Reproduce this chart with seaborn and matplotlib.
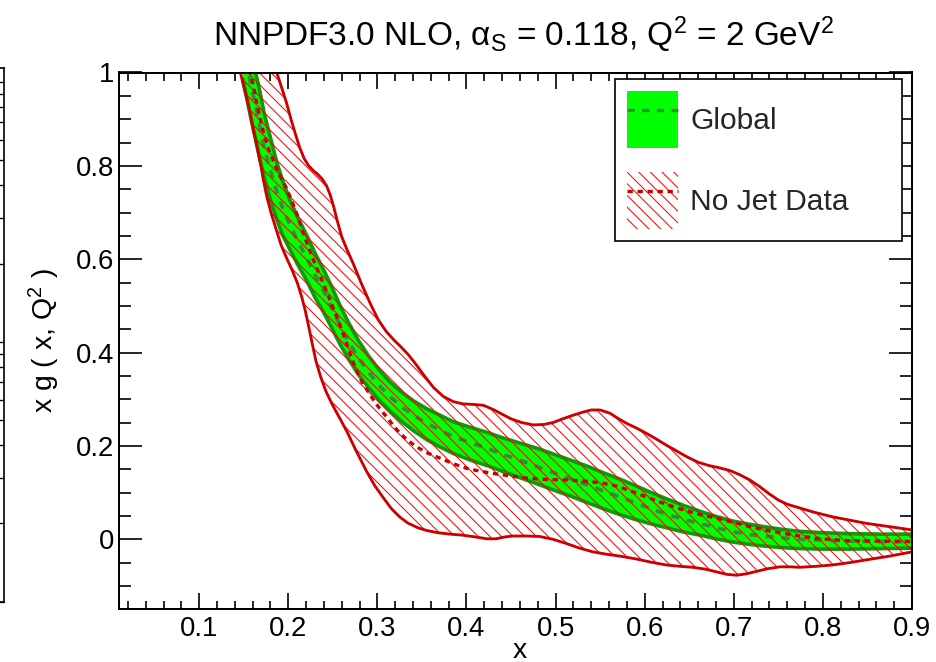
import numpy as np
import matplotlib
matplotlib.use("Agg")
import matplotlib.pyplot as plt
import seaborn as sns
from matplotlib.patches import Patch
from matplotlib.lines import Line2D
from matplotlib.ticker import MultipleLocator, FixedLocator, FixedFormatter

# ---------------- data ----------------
# No Jet Data: upper bound, lower bound, central value
nojet_up_x = [0.178, 0.187, 0.193, 0.198, 0.203, 0.208, 0.213, 0.218, 0.223, 0.228,
              0.233, 0.238, 0.243, 0.247, 0.251, 0.255, 0.260, 0.266, 0.273, 0.282,
              0.292, 0.301, 0.310, 0.318, 0.326, 0.334, 0.342, 0.352, 0.363, 0.374,
              0.385, 0.396, 0.407, 0.419, 0.430, 0.440, 0.450, 0.462, 0.475, 0.487,
              0.497, 0.508, 0.520, 0.530, 0.540, 0.550, 0.561, 0.570, 0.580, 0.590,
              0.600, 0.612, 0.624, 0.636, 0.648, 0.660, 0.672, 0.684, 0.696, 0.707,
              0.718, 0.729, 0.740, 0.750, 0.760, 0.774, 0.790, 0.811, 0.830, 0.849,
              0.875, 0.900]
nojet_up_y = [1.050, 1.000, 0.965, 0.935, 0.900, 0.868, 0.838, 0.815, 0.800, 0.790,
              0.782, 0.772, 0.757, 0.738, 0.712, 0.682, 0.648, 0.620, 0.590, 0.548,
              0.505, 0.470, 0.445, 0.428, 0.413, 0.397, 0.378, 0.352, 0.325, 0.306,
              0.295, 0.290, 0.289, 0.287, 0.278, 0.268, 0.258, 0.250, 0.245, 0.246,
              0.250, 0.258, 0.266, 0.272, 0.277, 0.277, 0.270, 0.259, 0.248, 0.239,
              0.229, 0.216, 0.202, 0.189, 0.176, 0.165, 0.158, 0.153, 0.147, 0.138,
              0.127, 0.113, 0.097, 0.084, 0.075, 0.067, 0.058, 0.048, 0.041, 0.034,
              0.027, 0.020]

nojet_lo_x = [0.139, 0.146, 0.150, 0.154, 0.158, 0.161, 0.165, 0.169, 0.172, 0.176,
              0.181, 0.187, 0.192, 0.198, 0.204, 0.210, 0.215, 0.219, 0.223, 0.227,
              0.231, 0.236, 0.242, 0.249, 0.257, 0.266, 0.276, 0.288, 0.297, 0.307,
              0.316, 0.325, 0.334, 0.345, 0.355, 0.368, 0.382, 0.395, 0.410, 0.423,
              0.433, 0.443, 0.452, 0.467, 0.482, 0.497, 0.512, 0.527, 0.542, 0.557,
              0.572, 0.590, 0.607, 0.624, 0.640, 0.654, 0.668, 0.681, 0.692, 0.703,
              0.714, 0.725, 0.738, 0.752, 0.763, 0.774, 0.792, 0.811, 0.830, 0.849,
              0.875, 0.900]
nojet_lo_y = [1.060, 1.002, 0.970, 0.940, 0.905, 0.875, 0.840, 0.803, 0.770, 0.733,
              0.697, 0.660, 0.630, 0.603, 0.578, 0.550, 0.520, 0.490, 0.455, 0.418,
              0.382, 0.350, 0.318, 0.290, 0.262, 0.230, 0.190, 0.145, 0.115, 0.088,
              0.065, 0.048, 0.035, 0.025, 0.019, 0.014, 0.011, 0.009, 0.005, 0.001,
              0.001, 0.005, 0.007, 0.007, 0.006, 0.000, -0.009, -0.019, -0.027, -0.032,
              -0.036, -0.042, -0.049, -0.055, -0.058, -0.060, -0.064, -0.070, -0.075, -0.077,
              -0.074, -0.069, -0.063, -0.059, -0.059, -0.060, -0.058, -0.055, -0.050, -0.044,
              -0.036, -0.027]

nojet_c_x = [0.150, 0.159, 0.165, 0.172, 0.178, 0.185, 0.191, 0.198, 0.204, 0.210,
             0.216, 0.223, 0.231, 0.240, 0.249, 0.258, 0.265, 0.271, 0.277, 0.283,
             0.290, 0.296, 0.303, 0.311, 0.318, 0.325, 0.334, 0.344, 0.356, 0.370,
             0.385, 0.400, 0.415, 0.430, 0.448, 0.468, 0.490, 0.512, 0.531, 0.550,
             0.562, 0.572, 0.589, 0.606, 0.624, 0.643, 0.662, 0.681, 0.700, 0.718,
             0.737, 0.755, 0.774, 0.793, 0.812, 0.830, 0.865, 0.900]
nojet_c_y = [1.070, 0.988, 0.930, 0.873, 0.835, 0.802, 0.777, 0.752, 0.725, 0.695,
             0.660, 0.624, 0.585, 0.545, 0.502, 0.459, 0.422, 0.388, 0.360, 0.336,
             0.315, 0.297, 0.279, 0.261, 0.243, 0.228, 0.212, 0.198, 0.185, 0.174,
             0.162, 0.152, 0.146, 0.141, 0.136, 0.131, 0.128, 0.127, 0.125, 0.121,
             0.117, 0.112, 0.100, 0.088, 0.075, 0.063, 0.053, 0.045, 0.036, 0.027,
             0.019, 0.013, 0.007, 0.002, -0.001, -0.003, -0.004, -0.005]

# Global: x grid, central value, upper and lower edge of the band
glob_x = [0.149, 0.155, 0.159, 0.163, 0.168, 0.173, 0.180, 0.187, 0.194, 0.202,
          0.211, 0.221, 0.230, 0.240, 0.249, 0.258, 0.268, 0.279, 0.290, 0.302,
          0.314, 0.328, 0.341, 0.355, 0.370, 0.385, 0.404, 0.423, 0.441, 0.460,
          0.479, 0.497, 0.516, 0.535, 0.553, 0.572, 0.587, 0.605, 0.624, 0.643,
          0.662, 0.680, 0.699, 0.718, 0.737, 0.755, 0.774, 0.800, 0.830, 0.865,
          0.900]
glob_c = [1.060, 1.002, 0.965, 0.931, 0.884, 0.838, 0.790, 0.745, 0.708, 0.673,
          0.637, 0.602, 0.566, 0.531, 0.495, 0.459, 0.422, 0.388, 0.358, 0.330,
          0.306, 0.283, 0.265, 0.249, 0.234, 0.220, 0.207, 0.195, 0.182, 0.169,
          0.156, 0.143, 0.130, 0.117, 0.104, 0.091, 0.080, 0.067, 0.054, 0.043,
          0.034, 0.025, 0.016, 0.010, 0.006, 0.003, 0.000, -0.002, -0.004, -0.005,
          -0.005]
glob_up = [1.140, 1.080, 1.040, 1.003, 0.960, 0.912, 0.860, 0.808, 0.766, 0.726,
           0.688, 0.650, 0.613, 0.576, 0.540, 0.501, 0.463, 0.425, 0.393, 0.363,
           0.337, 0.314, 0.296, 0.280, 0.266, 0.252, 0.240, 0.229, 0.217, 0.206,
           0.195, 0.183, 0.170, 0.157, 0.143, 0.129, 0.117, 0.102, 0.087, 0.073,
           0.060, 0.049, 0.039, 0.032, 0.026, 0.021, 0.017, 0.014, 0.012, 0.011,
           0.011]
glob_lo = [0.985, 0.930, 0.893, 0.860, 0.815, 0.775, 0.727, 0.685, 0.650, 0.620,
           0.587, 0.553, 0.518, 0.485, 0.452, 0.418, 0.385, 0.352, 0.325, 0.298,
           0.275, 0.251, 0.232, 0.214, 0.198, 0.184, 0.170, 0.158, 0.145, 0.132,
           0.119, 0.106, 0.093, 0.079, 0.066, 0.053, 0.044, 0.034, 0.025, 0.016,
           0.009, 0.001, -0.006, -0.011, -0.015, -0.018, -0.020, -0.021, -0.021, -0.020,
           -0.019]

x_ticks = [0.1, 0.2, 0.3, 0.4, 0.5, 0.6, 0.7, 0.8, 0.9]
x_ticklabels = ["0.1", "0.2", "0.3", "0.4", "0.5", "0.6", "0.7", "0.8", "0.9"]
y_ticks = [0.0, 0.2, 0.4, 0.6, 0.8, 1.0]
y_ticklabels = ["0", "0.2", "0.4", "0.6", "0.8", "1"]

legend_labels = ["Global", "No Jet Data"]
title = r"NNPDF3.0 NLO, α$_{\mathrm{S}}$ = 0.118, Q$^{2}$ = 2 GeV$^{2}$"
xlabel = "x"
ylabel = r"x g ( x, Q$^{2}$ )"

# ---------------- style ----------------
DPI = 140
K = 120.0 / DPI          # sizes below were tuned in points at 120 dpi
W, H = 936, 662

sns.set_theme(style="ticks")
plt.rcParams["font.family"] = ["Liberation Sans", "DejaVu Sans"]
plt.rcParams["mathtext.fontset"] = "custom"
plt.rcParams["mathtext.rm"] = "Liberation Sans"
plt.rcParams["mathtext.it"] = "Liberation Sans:italic"
plt.rcParams["mathtext.bf"] = "Liberation Sans:bold"
plt.rcParams["hatch.linewidth"] = 0.6 * K

GREEN = "#00ff00"
GREEN_EDGE = "#109810"
GREEN_C = "#3a8a3a"
RED_H = "#ff0000"
RED = "#cc0000"
HATCH = "\\\\\\\\"

fig = plt.figure(figsize=(W / DPI, H / DPI), dpi=DPI)
fig.patch.set_facecolor("white")

# partial neighbouring panel at the left edge
axn = fig.add_axes([-0.2, 1 - 601.7 / H, 0.2 + 3.5 / W, (601.7 - 68.3) / H])
axn.set_yscale("log")
axn.set_ylim(1, 113)
axn.set_xticks([])
axn.patch.set_alpha(0)
axn.spines["left"].set_visible(False)
for s in ["right", "top", "bottom"]:
    axn.spines[s].set_color("black")
    axn.spines[s].set_linewidth(1.0 * K)
axn.tick_params(axis="y", which="both", direction="in", left=False, right=True,
                labelleft=False, labelright=False, length=8 * K, width=0.8 * K, color="black")

# main panel
ax = fig.add_axes([119 / W, 1 - 609.3 / H, 793 / W, 536.8 / H])
ax.set_facecolor("white")

# Global band
ax.fill_between(glob_x, glob_lo, glob_up, facecolor=GREEN, edgecolor="none", zorder=1)
sns.lineplot(x=glob_x, y=glob_up, ax=ax, color=GREEN_EDGE, lw=2.2 * K, sort=False, zorder=2)
sns.lineplot(x=glob_x, y=glob_lo, ax=ax, color=GREEN_EDGE, lw=2.2 * K, sort=False, zorder=2)
sns.lineplot(x=glob_x, y=glob_c, ax=ax, color=GREEN_C, lw=2.2 * K,
             linestyle=(0, (2.2, 2.2)), sort=False, zorder=3)

# No Jet band (hatched)
rx = np.concatenate([nojet_up_x, nojet_lo_x[::-1]])
ry = np.concatenate([nojet_up_y, nojet_lo_y[::-1]])
ax.fill(rx, ry, facecolor="none", edgecolor=RED_H, hatch=HATCH, linewidth=0, zorder=4)
sns.lineplot(x=nojet_up_x, y=nojet_up_y, ax=ax, color=RED, lw=1.7 * K, sort=False, zorder=5)
sns.lineplot(x=nojet_lo_x, y=nojet_lo_y, ax=ax, color=RED, lw=1.7 * K, sort=False, zorder=5)
sns.lineplot(x=nojet_c_x, y=nojet_c_y, ax=ax, color=RED, lw=2.0 * K,
             linestyle=(0, (1.6, 1.4)), sort=False, zorder=6)

ax.set_xlim(0.01, 0.9)
ax.set_ylim(-0.15, 1.0)

ax.xaxis.set_major_locator(FixedLocator(x_ticks))
ax.xaxis.set_major_formatter(FixedFormatter(x_ticklabels))
ax.xaxis.set_minor_locator(MultipleLocator(0.02))
ax.yaxis.set_major_locator(FixedLocator(y_ticks))
ax.yaxis.set_major_formatter(FixedFormatter(y_ticklabels))
ax.yaxis.set_minor_locator(MultipleLocator(0.05))

for s in ax.spines.values():
    s.set_color("black")
    s.set_linewidth(1.2 * K)
    s.set_zorder(10)

ax.tick_params(axis="x", which="major", direction="in", length=9.6 * K, width=1.0 * K,
               top=True, bottom=True, labelsize=16.5 * K, pad=4 * K, color="black",
               labelcolor="black")
ax.tick_params(axis="x", which="minor", direction="in", length=4.8 * K, width=1.0 * K,
               top=True, bottom=True, color="black")
ax.tick_params(axis="y", which="major", direction="in", length=14 * K, width=1.0 * K,
               left=True, right=True, labelsize=16.5 * K, pad=3 * K, color="black",
               labelcolor="black")
ax.tick_params(axis="y", which="minor", direction="in", length=7 * K, width=1.0 * K,
               left=True, right=True, color="black")

ax.set_xlabel(xlabel, fontsize=17 * K, color="black")
ax.xaxis.set_label_coords(0.506, -0.053)
ax.set_ylabel(ylabel, fontsize=17 * K, color="black")
ax.yaxis.set_label_coords(-0.072, 0.5)

fig.text(523 / W, 1 - 46 / H, title, ha="center", va="baseline", fontsize=20 * K,
         color="black")

# legend
h_global = (Patch(facecolor=GREEN, edgecolor="none", linewidth=0),
            Line2D([], [], color=GREEN_C, lw=2.0 * K, linestyle=(0, (2.2, 2.2))))
h_nojet = (Patch(facecolor="white", edgecolor=RED_H, hatch=HATCH, linewidth=0),
           Line2D([], [], color=RED, lw=2.0 * K, linestyle=(0, (1.6, 1.4))))
leg = ax.legend(handles=[h_global, h_nojet], labels=legend_labels,
                loc="upper left", bbox_to_anchor=(0.6255, 0.6888, 0.3619, 0.2995),
                mode="expand", borderaxespad=0, fontsize=18 * K, handlelength=1.7,
                handleheight=2.56, handletextpad=0.4, labelspacing=0.8,
                borderpad=0.4, frameon=True, fancybox=False, framealpha=1,
                edgecolor="black", facecolor="white")
leg.get_frame().set_linewidth(1.0 * K)
leg.set_zorder(20)

fig.savefig("out.png", dpi=DPI, facecolor="white")
